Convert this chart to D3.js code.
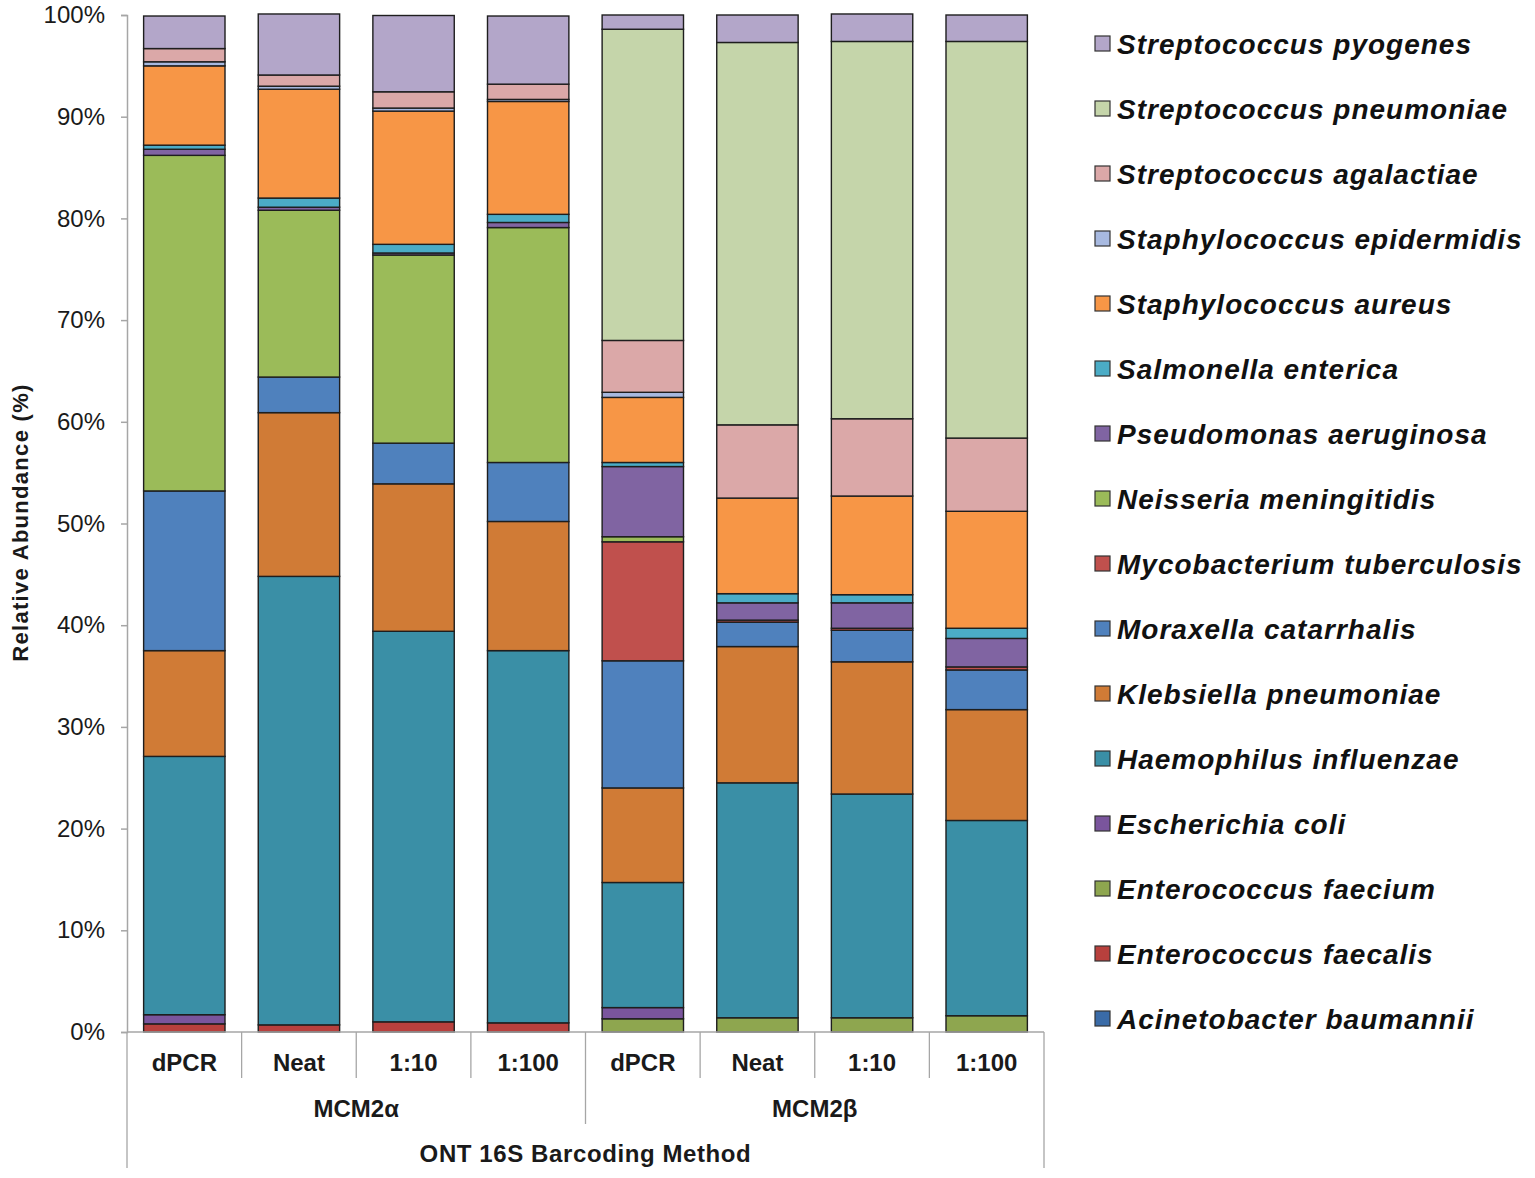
<!DOCTYPE html>
<html>
<head>
<meta charset="utf-8">
<script src="https://cdn.jsdelivr.net/npm/d3@7"></script>
<style>
  html, body { margin: 0; padding: 0; background: #fff; }
  svg { display: block; font-family: "Liberation Sans", Arial, sans-serif; }
</style>
</head>
<body>
<svg id="chart" width="1535" height="1178"></svg>
<script>
// ---------------- DATA ----------------
const categories = ["dPCR", "Neat", "1:10", "1:100", "dPCR", "Neat", "1:10", "1:100"];
const groups = ["MCM2α", "MCM2β"];
const axisTitle = "ONT 16S Barcoding Method";
const yTitle = "Relative Abundance (%)";
const yTicks = [0, 10, 20, 30, 40, 50, 60, 70, 80, 90, 100];

// series listed bottom of stack first
const species = [
  "Acinetobacter baumannii",
  "Enterococcus faecalis",
  "Enterococcus faecium",
  "Escherichia coli",
  "Haemophilus influenzae",
  "Klebsiella pneumoniae",
  "Moraxella catarrhalis",
  "Mycobacterium tuberculosis",
  "Neisseria meningitidis",
  "Pseudomonas aeruginosa",
  "Salmonella enterica",
  "Staphylococcus aureus",
  "Staphylococcus epidermidis",
  "Streptococcus agalactiae",
  "Streptococcus pneumoniae",
  "Streptococcus pyogenes"
];
const colors = [
  "#3A6BA7", "#B8403D", "#8EA64F", "#7A559D", "#3A8FA6", "#D07B36",
  "#4F81BD", "#C0504D", "#9BBB59", "#8064A2", "#4BACC6", "#F79646",
  "#A7B9E0", "#DBA8A8", "#C5D5AA", "#B3A6C9"
];

// values (%) per species, one per bar, in category order
const acinetobacter = [0, 0, 0, 0, 0, 0, 0, 0];
const eFaecalis     = [0.8, 0.7, 1.0, 0.9, 0, 0, 0, 0];
const eFaecium      = [0, 0, 0, 0, 1.3, 1.4, 1.4, 1.6];
const eColi         = [0.9, 0, 0, 0, 1.1, 0, 0, 0];
const haemophilus   = [25.4, 44.1, 38.4, 36.6, 12.3, 23.1, 22.0, 19.2];
const klebsiella    = [10.4, 16.1, 14.5, 12.7, 9.3, 13.4, 13.0, 10.9];
const moraxella     = [15.7, 3.5, 4.0, 5.8, 12.5, 2.4, 3.1, 3.9];
const mycobacterium = [0, 0, 0, 0, 11.7, 0.2, 0.2, 0.3];
const neisseria     = [33.0, 16.4, 18.5, 23.1, 0.5, 0, 0, 0];
const pseudomonas   = [0.6, 0.3, 0.2, 0.5, 6.9, 1.7, 2.5, 2.8];
const salmonella    = [0.4, 0.9, 0.85, 0.8, 0.4, 0.9, 0.8, 1.0];
const sAureus       = [7.8, 10.7, 13.1, 11.1, 6.4, 9.4, 9.7, 11.5];
const sEpidermidis  = [0.4, 0.3, 0.3, 0.2, 0.5, 0, 0, 0];
const sAgalactiae   = [1.3, 1.1, 1.6, 1.5, 5.1, 7.2, 7.6, 7.2];
const sPneumoniae   = [0, 0, 0, 0, 30.6, 37.6, 37.1, 39.0];
const sPyogenes     = [3.2, 6.0, 7.5, 6.7, 1.4, 2.7, 2.7, 2.6];

const seriesValues = [acinetobacter, eFaecalis, eFaecium, eColi, haemophilus, klebsiella,
  moraxella, mycobacterium, neisseria, pseudomonas, salmonella, sAureus, sEpidermidis,
  sAgalactiae, sPneumoniae, sPyogenes];

// ---------------- LAYOUT ----------------
const svg = d3.select("#chart");
const plot = { left: 127, right: 1044, top: 15, bottom: 1032 };

const rows = categories.map((c, i) => {
  const r = { idx: i };
  species.forEach((s, k) => r[s] = seriesValues[k][i]);
  return r;
});

const x = d3.scaleBand().domain(d3.range(categories.length))
  .range([plot.left, plot.right]).paddingInner(0.29).paddingOuter(0.145);
const y = d3.scaleLinear().domain([0, 100]).range([plot.bottom, plot.top]);
const color = d3.scaleOrdinal().domain(species).range(colors);

const stacked = d3.stack().keys(species)(rows);

// bars
const g = svg.append("g");
stacked.forEach(layer => {
  g.append("g").selectAll("rect")
    .data(layer.filter(d => d[1] - d[0] > 0))
    .join("rect")
    .attr("x", d => x(d.data.idx))
    .attr("width", x.bandwidth())
    .attr("y", d => y(d[1]))
    .attr("height", d => y(d[0]) - y(d[1]))
    .attr("fill", color(layer.key))
    .attr("stroke", "#1e1e1e")
    .attr("stroke-width", 1.4);
});

// y axis
const yAxis = d3.axisLeft(y).tickValues(yTicks).tickSize(6).tickFormat(d => d + "%");
const ya = svg.append("g").attr("transform", `translate(${plot.left},0)`).call(yAxis);
ya.select(".domain").attr("stroke", "#a6a6a6").attr("stroke-width", 1.5);
ya.selectAll(".tick line").attr("stroke", "#a6a6a6").attr("stroke-width", 1.5);
ya.selectAll(".tick text").attr("font-size", 24).attr("fill", "#1a1a1a")
  .attr("font-family", "Liberation Sans, Arial, sans-serif").attr("x", -22);

svg.append("text")
  .attr("transform", `translate(28,${(plot.top + plot.bottom) / 2 - 1}) rotate(-90)`)
  .attr("text-anchor", "middle")
  .attr("font-size", 22).attr("font-weight", "bold").attr("fill", "#1a1a1a")
  .attr("letter-spacing", 1.3)
  .text(yTitle);

// x axis (multi-level category axis)
const xAxis = svg.append("g");
const lineCol = "#a6a6a6";
xAxis.append("line").attr("x1", plot.left).attr("x2", plot.right)
  .attr("y1", plot.bottom).attr("y2", plot.bottom)
  .attr("stroke", lineCol).attr("stroke-width", 1.5);

const step = x.step();
const boundary = i => plot.left + i * step;
for (let i = 0; i <= categories.length; i++) {
  let y2 = 1078;
  if (i === 0 || i === categories.length) y2 = 1168;
  else if (i === categories.length / 2) y2 = 1124;
  xAxis.append("line").attr("x1", boundary(i)).attr("x2", boundary(i))
    .attr("y1", plot.bottom).attr("y2", y2)
    .attr("stroke", lineCol).attr("stroke-width", 1.3);
}
xAxis.selectAll("text.cat").data(categories).join("text")
  .attr("class", "cat")
  .attr("x", (d, i) => x(i) + x.bandwidth() / 2)
  .attr("y", 1071)
  .attr("text-anchor", "middle")
  .attr("font-size", 24).attr("font-weight", "bold").attr("fill", "#1a1a1a")
  .text(d => d);

xAxis.selectAll("text.grp").data(groups).join("text")
  .attr("class", "grp")
  .attr("x", (d, i) => (boundary(i * 4) + boundary(i * 4 + 4)) / 2)
  .attr("y", 1117)
  .attr("text-anchor", "middle")
  .attr("font-size", 24).attr("font-weight", "bold").attr("fill", "#1a1a1a")
  .text(d => d);

xAxis.append("text")
  .attr("x", (plot.left + plot.right) / 2)
  .attr("y", 1162)
  .attr("text-anchor", "middle")
  .attr("font-size", 24).attr("font-weight", "bold").attr("fill", "#1a1a1a")
  .attr("letter-spacing", 0.6)
  .text(axisTitle);

// legend (top = last series)
const legendItems = species.slice().reverse();
const lg = svg.append("g");
const legY = d3.scalePoint().domain(legendItems).range([44, 1019]);
legendItems.forEach(s => {
  const yy = legY(s);
  lg.append("rect").attr("x", 1095).attr("y", yy - 8).attr("width", 15).attr("height", 15)
    .attr("fill", color(s)).attr("stroke", "#333").attr("stroke-width", 1.2);
  lg.append("text").attr("x", 1117).attr("y", yy + 10)
    .attr("font-size", 28).attr("font-weight", "bold").attr("font-style", "italic")
    .attr("letter-spacing", 1)
    .attr("fill", "#111")
    .text(s);
});
</script>
</body>
</html>
